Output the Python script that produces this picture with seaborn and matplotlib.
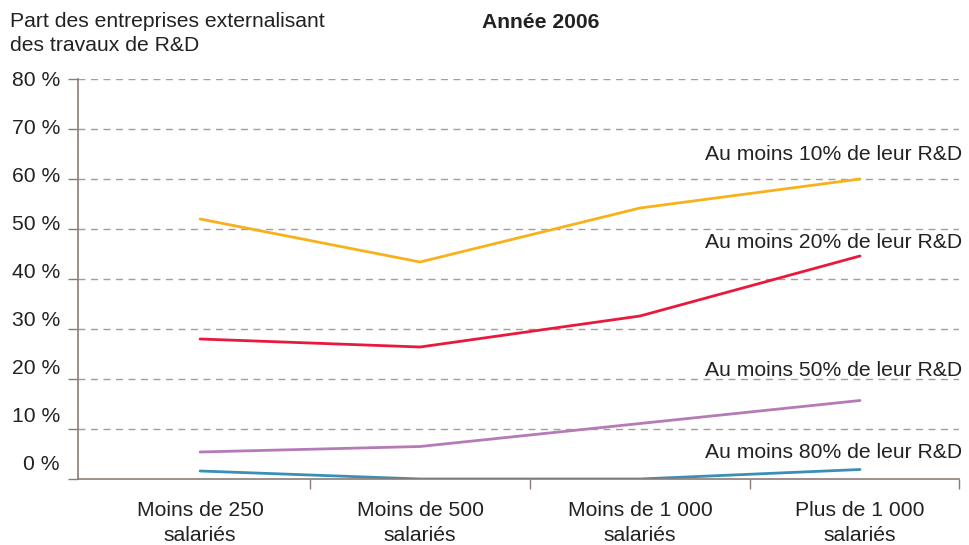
import numpy as np
import pandas as pd
import matplotlib
matplotlib.use('Agg')
import matplotlib.pyplot as plt
import seaborn as sns

# Data
categories = ['Moins de 250\nsalariés', 'Moins de 500\nsalariés',
              'Moins de 1 000\nsalariés', 'Plus de 1 000\nsalariés']
series_names = ['Au moins 10% de leur R&D', 'Au moins 20% de leur R&D',
                'Au moins 50% de leur R&D', 'Au moins 80% de leur R&D']
au_moins_10 = [52.0, 43.4, 54.2, 60.0]
au_moins_20 = [28.0, 26.4, 32.6, 44.6]
au_moins_50 = [5.4, 6.5, 11.1, 15.7]
au_moins_80 = [1.6, 0.0, 0.0, 1.9]
y_ticks = [0, 10, 20, 30, 40, 50, 60, 70, 80]

colors = ['#F7B21B', '#E8193C', '#B57BB8', '#3A8FB7']
label_y = [64.8, 47.2, 21.8, 5.2]
fs = 15.2

sns.set_theme(style='white')
plt.rcParams['font.family'] = ['Liberation Sans', 'DejaVu Sans']

rows = []
for name, vals in zip(series_names, [au_moins_10, au_moins_20, au_moins_50, au_moins_80]):
    for i, v in enumerate(vals):
        rows.append({'Série': name, 'x': i, 'Part': v})
df = pd.DataFrame(rows)

fig = plt.figure(figsize=(9.69, 5.45), dpi=100)
ax = fig.add_axes([78 / 969, 1 - 479 / 545, (959 - 78) / 969, 400 / 545])

sns.lineplot(data=df, x='x', y='Part', hue='Série', palette=colors,
             linewidth=2, legend=False, ax=ax)

ax.set_xlim(-0.555, 3.45)
ax.set_ylim(0, 80)
ax.set_yticks(y_ticks)
ax.set_yticklabels([])
# tick labels in the original drift upwards a bit towards the bottom
for t in y_ticks:
    ax.text(-0.637, 80 - (80 - t) * 0.96 - 0.3, f'{t} %', ha='right', va='center',
            fontsize=fs, color='#222222', clip_on=False)
for t in y_ticks[1:]:
    ax.axhline(t, color='#A89C98', linestyle=(0, (5, 4)), linewidth=1, zorder=0)

ax.set_xticks([0.5, 1.5, 2.5, 3.45])
ax.set_xticklabels([])
for i, c in enumerate(categories):
    ax.text(i, -4.5, c, ha='center', va='top', fontsize=fs, color='#222222',
            linespacing=1.38)

ax.tick_params(axis='y', length=7, width=1, color='#8C7B75', pad=4)
ax.tick_params(axis='x', length=7, width=1, color='#8C7B75', direction='out')
ax.tick_params(axis='both', which='both', left=True, bottom=True)
for s in ['top', 'right']:
    ax.spines[s].set_visible(False)
for s in ['left', 'bottom']:
    ax.spines[s].set_color('#8C7B75')
    ax.spines[s].set_linewidth(1.2)
ax.set_xlabel('')
ax.set_ylabel('')

for name, ly in zip(series_names, label_y):
    ax.text(3.465, ly, name, ha='right', va='center', fontsize=fs,
            color='#222222', clip_on=False)

fig.text(10 / 969, 1 - 33.5 / 545, 'Part des entreprises externalisant\ndes travaux de R&D',
         ha='left', va='center', fontsize=fs, color='#222222', linespacing=1.38)
fig.text(541 / 969, 1 - 22 / 545, 'Année 2006', ha='center', va='center',
         fontsize=fs, fontweight='bold', color='#222222')

fig.savefig('out.png', dpi=100)
